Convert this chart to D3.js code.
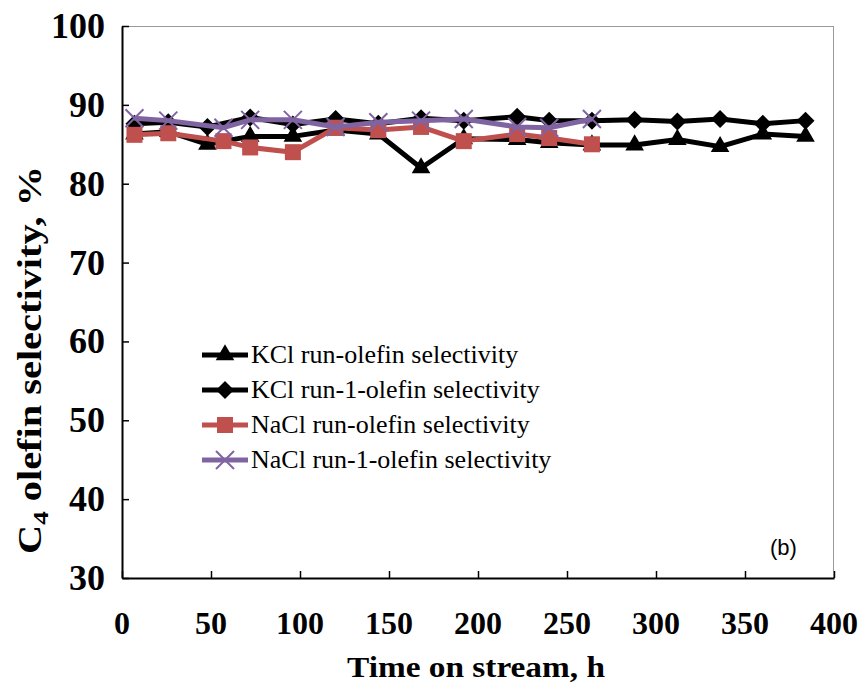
<!DOCTYPE html>
<html>
<head>
<meta charset="utf-8">
<script src="https://cdn.jsdelivr.net/npm/d3@7"></script>
<style>
  body { margin: 0; background: #fff; }
  svg { display: block; }
</style>
</head>
<body>
<div id="chart"></div>
<script>
// data
var kclTime = [7, 26, 48, 72, 96, 120, 144, 168, 192, 222, 240, 264, 288, 312, 336, 360, 384]
var kclOlefin = [86.3, 86.6, 85.0, 86.0, 86.0, 86.8, 86.3, 82.0, 85.7, 85.6, 85.2, 84.9, 84.9, 85.6, 84.7, 86.3, 86.0]
var kcl1Olefin = [87.6, 87.8, 87.2, 88.4, 87.5, 88.2, 87.6, 88.3, 88.0, 88.5, 88.0, 88.0, 88.1, 87.9, 88.2, 87.6, 88.0]
var naclTime = [7, 26, 57, 72, 96, 120, 144, 168, 192, 222, 240, 264]
var naclOlefin = [86.2, 86.4, 85.4, 84.6, 84.0, 87.1, 86.8, 87.2, 85.4, 86.3, 85.8, 85.0]
var nacl1Olefin = [88.3, 88.0, 87.1, 88.1, 88.1, 87.2, 87.8, 88.0, 88.2, 87.2, 87.1, 88.2]
var xTicks = [0, 50, 100, 150, 200, 250, 300, 350, 400]
var yTicks = [30, 40, 50, 60, 70, 80, 90, 100]
var legendNames = ['KCl run-olefin selectivity', 'KCl run-1-olefin selectivity',
  'NaCl run-olefin selectivity', 'NaCl run-1-olefin selectivity']

var margin = {top: 26, right: 28, bottom: 105, left: 122},
    width = 862 - margin.left - margin.right,
    height = 683 - margin.top - margin.bottom

var svg = d3.select('#chart')
  .append('svg')
  .attr('width', 862)
  .attr('height', 683)
  .append('g')
  .attr('transform', 'translate(' + margin.left + ',' + margin.top + ')')

var x = d3.scaleLinear().domain([0, 400]).range([0, width])
var y = d3.scaleLinear().domain([30, 100]).range([height, 0])

// frame: gray top/right
svg.append('line').attr('x1', 0).attr('x2', width).attr('y1', 0.5).attr('y2', 0.5)
  .attr('stroke', '#9a9a9a').attr('stroke-width', 1)
svg.append('line').attr('x1', width - 0.5).attr('x2', width - 0.5).attr('y1', 0).attr('y2', height)
  .attr('stroke', '#9a9a9a').attr('stroke-width', 1)

// axes with inward ticks
var xAxis = svg.append('g')
  .attr('transform', 'translate(0,' + height + ')')
  .call(d3.axisBottom(x).tickValues(xTicks).tickSize(-7).tickSizeOuter(0).tickFormat(''))
var yAxis = svg.append('g')
  .call(d3.axisLeft(y).tickValues(yTicks).tickSize(-7).tickSizeOuter(0).tickFormat(''))
svg.selectAll('.domain').attr('stroke', '#000').attr('stroke-width', 2)
svg.selectAll('.tick line').attr('stroke', '#000').attr('stroke-width', 1.5)

// tick labels
svg.selectAll('.ylab')
  .data(yTicks)
  .enter()
  .append('text')
  .attr('x', -17)
  .attr('y', function (d) { return y(d) + 12 })
  .attr('text-anchor', 'end')
  .style('font-family', 'Liberation Serif, Times New Roman, serif')
  .style('font-weight', 'bold')
  .style('font-size', '36px')
  .text(function (d) { return d })

svg.selectAll('.xlab')
  .data(xTicks)
  .enter()
  .append('text')
  .attr('x', function (d) { return x(d) })
  .attr('y', height + 56)
  .attr('text-anchor', 'middle')
  .style('font-family', 'Liberation Serif, Times New Roman, serif')
  .style('font-weight', 'bold')
  .style('font-size', '32px')
  .text(function (d) { return d })

// axis titles
svg.append('text')
  .attr('x', 476 - margin.left)
  .attr('y', height + 99)
  .attr('text-anchor', 'middle')
  .attr('textLength', 258)
  .attr('lengthAdjust', 'spacingAndGlyphs')
  .style('font-family', 'Liberation Serif, Times New Roman, serif')
  .style('font-weight', 'bold')
  .style('font-size', '30px')
  .text('Time on stream, h')

var yTitle = svg.append('text')
  .attr('transform', 'translate(' + (41 - margin.left) + ',' + (360 - margin.top) + ') rotate(-90)')
  .attr('text-anchor', 'middle')
  .attr('textLength', 388)
  .attr('lengthAdjust', 'spacingAndGlyphs')
  .style('font-family', 'Liberation Serif, Times New Roman, serif')
  .style('font-weight', 'bold')
  .style('font-size', '33px')
yTitle.append('tspan').text('C')
yTitle.append('tspan').attr('dy', 7).style('font-size', '22px').text('4')
yTitle.append('tspan').attr('dy', -7).text(' olefin selectivity, %')

svg.append('text')
  .attr('x', 648)
  .attr('y', 529)
  .style('font-family', 'Liberation Sans, Arial, sans-serif')
  .style('font-size', '22px')
  .text('(b)')

// series
var series = [
  {time: kclTime, vals: kclOlefin, color: '#000', marker: 'tri'},
  {time: kclTime, vals: kcl1Olefin, color: '#000', marker: 'dia'},
  {time: naclTime, vals: naclOlefin, color: '#C0504D', marker: 'sq'},
  {time: naclTime, vals: nacl1Olefin, color: '#8064A2', marker: 'x'}
]

function drawMarker (g, type, color) {
  if (type === 'tri') {
    g.append('path').attr('d', d3.symbol().type(d3.symbolTriangle).size(150)()).attr('fill', color)
  } else if (type === 'dia') {
    g.append('path').attr('d', 'M0,-9L9,0L0,9L-9,0Z').attr('fill', color)
  } else if (type === 'sq') {
    g.append('rect').attr('x', -8).attr('y', -8).attr('width', 16).attr('height', 16).attr('fill', color)
  } else {
    g.append('path').attr('d', 'M-9,-9L9,9M-9,9L9,-9').attr('stroke', color).attr('stroke-width', 2).attr('fill', 'none')
  }
}

var line = d3.line()
  .x(function (d) { return x(d[0]) })
  .y(function (d) { return y(d[1]) })

series.forEach(function (s) {
  var pts = s.time.map(function (t, i) { return [t, s.vals[i]] })
  svg.append('path')
    .datum(pts)
    .attr('fill', 'none')
    .attr('stroke', s.color)
    .attr('stroke-width', 5)
    .attr('stroke-linejoin', 'round')
    .attr('d', line)
  pts.forEach(function (p) {
    var g = svg.append('g').attr('transform', 'translate(' + x(p[0]) + ',' + y(p[1]) + ')')
    drawMarker(g, s.marker, s.color)
  })
})

// legend
var legend = svg.append('g').attr('transform', 'translate(' + (202 - margin.left) + ',' + (355 - margin.top) + ')')
series.forEach(function (s, i) {
  var row = legend.append('g').attr('transform', 'translate(0,' + (i * 35) + ')')
  row.append('line').attr('x1', 0).attr('x2', 46).attr('y1', 0).attr('y2', 0)
    .attr('stroke', s.color).attr('stroke-width', 5)
  var m = row.append('g').attr('transform', 'translate(23,0)')
  drawMarker(m, s.marker, s.color)
  row.append('text')
    .attr('x', 49)
    .attr('y', 8)
    .style('font-family', 'Liberation Serif, Times New Roman, serif')
    .style('font-size', '26px')
    .text(legendNames[i])
})
</script>
</body>
</html>
